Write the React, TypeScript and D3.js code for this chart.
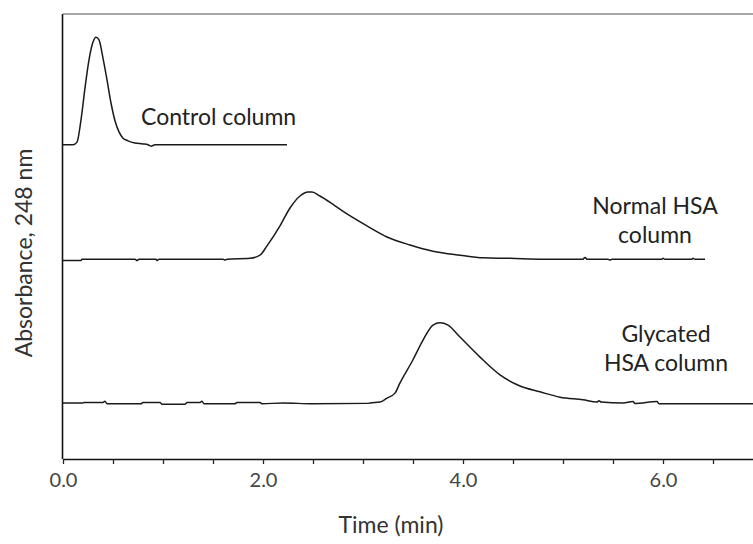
import React, { useEffect, useRef } from "react";
import * as d3 from "d3";

const width = 753;
const height = 544;
const margin = { top: 14, right: 0, bottom: 85, left: 63 };

// time in minutes, absorbance in arbitrary units (traces are offset)
const controlTime = [0, 0.1, 0.14, 0.18, 0.22, 0.26, 0.3, 0.33, 0.36, 0.4, 0.44, 0.48, 0.52, 0.56, 0.6, 0.65, 0.72, 0.8, 0.85, 0.88, 0.92, 2.24];
const controlAbs = [70.6, 70.6, 71.2, 76.2, 83.4, 89.7, 93.7, 94.8, 94.2, 90.1, 85.2, 80.0, 76.0, 73.5, 72.1, 71.5, 71.0, 70.8, 70.6, 70.3, 70.6, 70.6];

const normalTime = [0, 0.18, 0.19, 0.72, 0.74, 0.76, 0.93, 0.94, 0.96, 1.6, 1.62, 1.64, 1.87, 1.97, 2.04, 2.17, 2.27, 2.37, 2.45, 2.49, 2.57, 2.72, 2.84, 3.04, 3.24, 3.47, 3.7, 3.97, 4.2, 4.47, 4.8, 5.2, 5.22, 5.24, 5.45, 5.47, 5.49, 5.99, 6.0, 6.02, 6.29, 6.3, 6.32, 6.42];
const normalAbs = [44.6, 44.6, 44.9, 44.9, 44.6, 44.9, 44.9, 44.6, 44.9, 44.9, 44.7, 44.9, 45.1, 45.8, 47.9, 52.4, 56.4, 59.1, 60.0, 60.0, 59.1, 56.9, 55.1, 52.4, 49.9, 48.1, 46.7, 45.8, 45.2, 45.1, 44.9, 44.9, 45.3, 44.9, 44.9, 44.7, 44.9, 44.9, 45.1, 44.9, 44.9, 45.1, 44.9, 44.9];

const glycatedTime = [0, 0.2, 0.21, 0.4, 0.42, 0.44, 0.78, 0.8, 0.97, 0.99, 1.22, 1.24, 1.37, 1.39, 1.41, 1.72, 1.74, 1.97, 1.99, 2.2, 2.5, 3.05, 3.07, 3.17, 3.24, 3.32, 3.37, 3.5, 3.6, 3.7, 3.77, 3.85, 3.97, 4.17, 4.37, 4.57, 4.77, 4.97, 5.2, 5.34, 5.36, 5.38, 5.6, 5.7, 5.72, 5.94, 5.96, 6.2, 6.9];
const glycatedAbs = [12.6, 12.6, 12.7, 12.7, 13.0, 12.4, 12.4, 12.7, 12.7, 12.3, 12.3, 12.7, 12.7, 13.0, 12.4, 12.4, 12.7, 12.7, 12.4, 12.6, 12.4, 12.5, 12.6, 12.8, 13.7, 14.8, 17.1, 22.3, 26.7, 30.1, 30.6, 30.1, 27.4, 22.9, 18.9, 16.4, 15.1, 13.9, 13.3, 12.8, 13.1, 12.8, 12.6, 12.9, 12.5, 12.9, 12.4, 12.4, 12.4];

const xTicks = [0, 0.5, 1, 1.5, 2, 2.5, 3, 3.5, 4, 4.5, 5, 5.5, 6, 6.5];
const xLabelled = [0, 2, 4, 6];

const seriesLabels = [
  { lines: ["Control column"], t: 0.78, v: 75.1, anchor: "start" },
  { lines: ["Normal HSA", "column"], t: 5.92, v: 55.1, anchor: "middle" },
  { lines: ["Glycated", "HSA column"], t: 6.03, v: 26.3, anchor: "middle" },
];

const font = "Lato, 'Open Sans', sans-serif";

export default function App() {
  const axisRef = useRef<SVGGElement>(null);

  const x = d3.scaleLinear().domain([0, 6.9]).range([margin.left, width - margin.right]);
  const y = d3.scaleLinear().domain([0, 100]).range([height - margin.bottom, margin.top]);

  const line = d3
    .line<[number, number]>()
    .x((d) => x(d[0]))
    .y((d) => y(d[1]))
    .curve(d3.curveMonotoneX);

  const traces = [
    d3.zip(controlTime, controlAbs) as [number, number][],
    d3.zip(normalTime, normalAbs) as [number, number][],
    d3.zip(glycatedTime, glycatedAbs) as [number, number][],
  ];

  useEffect(() => {
    const axis = d3
      .axisBottom(x)
      .tickValues(xTicks)
      .tickSize(5)
      .tickSizeOuter(0)
      .tickPadding(9)
      .tickFormat((d) => (xLabelled.includes(+d) ? d3.format(".1f")(+d) : ""));
    const g = d3.select(axisRef.current!);
    g.call(axis);
    g.select(".domain").attr("stroke", "#111").attr("stroke-width", 1.6);
    g.selectAll(".tick line").attr("stroke", "#222").attr("stroke-width", 1.3);
    g.selectAll(".tick text")
      .attr("font-family", font)
      .attr("font-size", 20)
      .attr("fill", "#444");
  }, []);

  return (
    <svg
      width={width}
      height={height}
      style={{ position: "absolute", left: 0, top: 0, background: "#fff" }}
    >
      <line x1={margin.left} x2={width} y1={margin.top} y2={margin.top} stroke="#8a8a8a" strokeWidth={1.6} />
      <line x1={margin.left - 0.5} x2={margin.left - 0.5} y1={margin.top} y2={height - margin.bottom} stroke="#111" strokeWidth={1.6} />
      <g ref={axisRef} transform={`translate(0, ${height - margin.bottom})`} />
      {traces.map((d, i) => (
        <path key={i} d={line(d) ?? ""} fill="none" stroke="#1a1a1a" strokeWidth={1.5} />
      ))}
      {seriesLabels.map((s, i) => (
        <text key={i} fontFamily={font} fontSize={23} fill="#222" textAnchor={s.anchor}>
          {s.lines.map((l, j) => (
            <tspan key={j} x={x(s.t)} y={y(s.v) + j * 29}>
              {l}
            </tspan>
          ))}
        </text>
      ))}
      <text x={391} y={533} fontFamily={font} fontSize={23} fill="#333" textAnchor="middle">
        Time (min)
      </text>
      <text
        transform="translate(32, 253) rotate(-90)"
        fontFamily={font}
        fontSize={23}
        fill="#333"
        textAnchor="middle"
      >
        Absorbance, 248 nm
      </text>
    </svg>
  );
}
